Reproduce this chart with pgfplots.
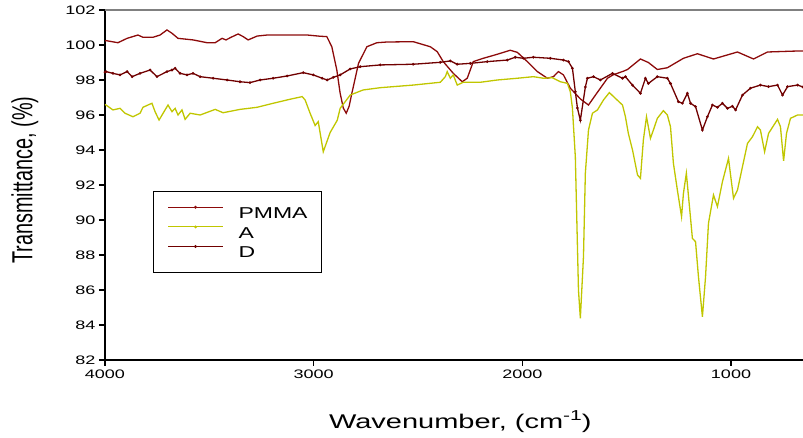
\documentclass[border=0pt]{standalone}
\usepackage{pgfplots}
\pgfplotsset{compat=1.18}
\usepackage{fontspec}
\setmainfont{Liberation Sans}
\usepackage{graphicx}
% text is set slightly flattened, as in the printed spectrum
\newcommand\sqh[1]{\scalebox{1}[0.684]{#1}}
\newcommand\sqv[1]{\scalebox{0.684}[1]{#1}}
\definecolor{pmma}{RGB}{140,10,10}
\definecolor{dcol}{RGB}{112,0,0}
\definecolor{acol}{RGB}{192,198,0}

\begin{document}
\begin{tikzpicture}
\begin{axis}[
  scale only axis, width=698pt, height=350pt,
  x dir=reverse, xmin=655, xmax=4000, ymin=82, ymax=102,
  axis x line*=bottom, axis y line*=left,
  axis line style={line width=1.1pt, black},
  tick align=outside, major tick length=6pt,
  tick style={line width=1.1pt, black},
  xtick={4000,3000,2000,1000},
  xticklabels={\sqh{4000},\sqh{3000},\sqh{2000},\sqh{1000}},
  ytick={82,84,86,88,90,92,94,96,98,100,102},
  yticklabels={\sqh{82},\sqh{84},\sqh{86},\sqh{88},\sqh{90},\sqh{92},\sqh{94},\sqh{96},\sqh{98},\sqh{100},\sqh{102}},
  tick label style={font=\fontsize{18}{18}\selectfont},
  xlabel={\sqh{Wavenumber, (cm\raisebox{0.42em}{\fontsize{21}{21}\selectfont -1})}},
  xlabel style={font=\fontsize{29}{29}\selectfont, at={(axis description cs:0.509,-0.197)}, anchor=base},
  ylabel={\sqv{Transmittance, (\%)}},
  ylabel style={font=\fontsize{29}{29}\selectfont, at={(axis description cs:-0.1042,0.514)}, anchor=base, rotate=0},
  legend style={at={(axis description cs:0.0688,0.483)}, anchor=north west, draw=black, line width=1pt,
    fill=white, inner xsep=14pt, inner ysep=14.5pt, font=\fontsize{23}{23}\selectfont,
    nodes={inner sep=0pt, text height=11.5pt, text depth=0pt}, row sep=7pt,
    /tikz/every odd column/.append style={column sep=15pt}},
  legend cell align=left,
  legend image code/.code={\draw[#1, mark=none, line width=1pt] (0pt,5.5pt) -- (55pt,5.5pt);
    \fill[#1] (27.5pt,5.5pt) circle (0.7pt);},
]
\coordinate (ll) at (rel axis cs:0,0);
\coordinate (ur) at (rel axis cs:1,1);
\draw[line width=1.1pt, gray] (rel axis cs:0,1) -- (rel axis cs:1,1);

% PMMA film
\addplot[pmma, line width=1.3pt] coordinates {
(4000,100.22) (3995,100.25) (3938,100.13) (3894,100.38) (3842,100.57) (3818,100.44)
(3770,100.44) (3736,100.57) (3703,100.86) (3679,100.67) (3650,100.38) (3578,100.29)
(3511,100.13) (3472,100.13) (3439,100.38) (3420,100.29) (3396,100.44) (3362,100.63)
(3338,100.48) (3314,100.29) (3271,100.51) (3223,100.57) (3127,100.57) (3031,100.57)
(2969,100.50) (2937,100.48) (2913,99.90) (2889,98.57) (2873,97.24) (2858,96.40)
(2844,96.10) (2830,96.50) (2817,97.24) (2785,98.95) (2745,99.90) (2697,100.13)
(2650,100.17) (2523,100.19) (2441,99.90) (2408,99.62) (2379,99.05) (2331,98.38)
(2288,97.90) (2264,98.10) (2235,99.05) (2187,99.24) (2120,99.47) (2058,99.70)
(2024,99.58) (1976,99.05) (1928,98.48) (1880,98.10) (1851,98.19) (1827,98.48)
(1803,98.29) (1770,97.53) (1722,96.92) (1683,96.57) (1640,97.30) (1592,98.10)
(1564,98.30) (1516,98.50) (1496,98.60) (1434,99.20) (1396,99.00) (1353,98.60)
(1305,98.70) (1228,99.24) (1161,99.50) (1084,99.20) (969,99.60) (892,99.20)
(825,99.60) (700,99.65) (655,99.66)
};
\addlegendentry{\sqh{PMMA}}

% sample A
\addplot[acol, line width=1.3pt] coordinates {
(4000,96.60) (3995,96.57) (3962,96.29) (3928,96.38) (3904,96.10) (3866,95.90)
(3832,96.10) (3818,96.44) (3794,96.57) (3775,96.67) (3760,96.19) (3741,95.71)
(3712,96.29) (3698,96.57) (3679,96.19) (3664,96.38) (3650,96.00) (3631,96.29)
(3616,95.75) (3592,96.10) (3544,96.00) (3472,96.32) (3434,96.13) (3353,96.32)
(3271,96.44) (3194,96.67) (3113,96.90) (3055,97.05) (3041,96.86) (3017,96.10)
(2993,95.40) (2978,95.62) (2954,93.90) (2921,95.00) (2887,95.70) (2873,96.38)
(2825,97.14) (2763,97.43) (2681,97.56) (2523,97.71) (2393,97.87) (2369,98.19)
(2360,98.48) (2345,98.10) (2331,98.29) (2312,97.71) (2283,97.87) (2201,97.87)
(2120,98.00) (2024,98.10) (1947,98.19) (1899,98.10) (1856,98.13) (1818,97.90)
(1784,97.81) (1770,97.33) (1760,96.40) (1746,93.60) (1731,86.00) (1722,84.38)
(1707,87.90) (1698,92.67) (1683,95.14) (1664,96.10) (1640,96.29) (1611,96.86)
(1583,97.28) (1554,96.95) (1520,96.57) (1506,95.90) (1492,94.95) (1472,94.00)
(1448,92.57) (1434,92.38) (1420,94.57) (1405,95.90) (1386,94.67) (1372,95.14)
(1353,95.81) (1324,96.25) (1305,96.00) (1290,95.33) (1276,93.24) (1257,91.71)
(1237,90.19) (1228,91.52) (1214,92.67) (1199,90.76) (1185,88.95) (1170,88.76)
(1156,86.76) (1137,84.47) (1122,86.76) (1108,89.81) (1084,91.43) (1065,90.76)
(1041,92.19) (1012,93.52) (988,91.24) (969,91.71) (945,93.05) (921,94.38)
(897,94.76) (873,95.33) (859,95.14) (839,93.90) (820,94.95) (777,95.75)
(763,95.33) (748,93.38) (734,94.95) (715,95.81) (681,96.00) (655,96.00)
};
\addlegendentry{\sqh{A}}

% sample D
\addplot[dcol, line width=1.3pt, mark=*, mark size=0.6pt] coordinates {
(4000,98.45) (3995,98.48) (3962,98.38) (3928,98.29) (3894,98.48) (3870,98.19)
(3832,98.38) (3784,98.57) (3751,98.19) (3703,98.48) (3679,98.57) (3664,98.67)
(3640,98.38) (3607,98.29) (3578,98.38) (3544,98.19) (3482,98.10) (3415,98.00)
(3353,97.90) (3305,97.85) (3257,98.00) (3194,98.10) (3127,98.23) (3050,98.42)
(3002,98.29) (2959,98.10) (2935,98.00) (2906,98.15) (2873,98.29) (2825,98.63)
(2777,98.76) (2681,98.86) (2523,98.90) (2393,99.01) (2345,99.09) (2312,98.90)
(2249,98.95) (2168,99.05) (2072,99.14) (2034,99.30) (1995,99.24) (1947,99.30)
(1866,99.24) (1803,99.14) (1779,99.05) (1760,98.67) (1746,97.33) (1736,96.40)
(1722,95.70) (1698,97.60) (1688,98.10) (1659,98.19) (1626,98.00) (1568,98.38)
(1520,98.10) (1506,98.19) (1472,97.70) (1434,97.24) (1410,98.10) (1396,97.80)
(1353,98.19) (1305,98.10) (1290,97.80) (1252,96.76) (1233,96.67) (1209,97.24)
(1194,96.67) (1170,96.48) (1137,95.14) (1113,95.90) (1089,96.57) (1065,96.44)
(1041,96.67) (1017,96.38) (993,96.50) (978,96.29) (945,97.14) (907,97.53)
(859,97.71) (820,97.62) (777,97.71) (753,97.14) (729,97.62) (681,97.71) (655,97.60)
};
\addlegendentry{\sqh{D}}
\end{axis}
\pgfresetboundingbox
\path[use as bounding box] ([xshift=-105pt,yshift=-78pt]ll) rectangle ([yshift=10pt]ur);
\end{tikzpicture}
\end{document}
